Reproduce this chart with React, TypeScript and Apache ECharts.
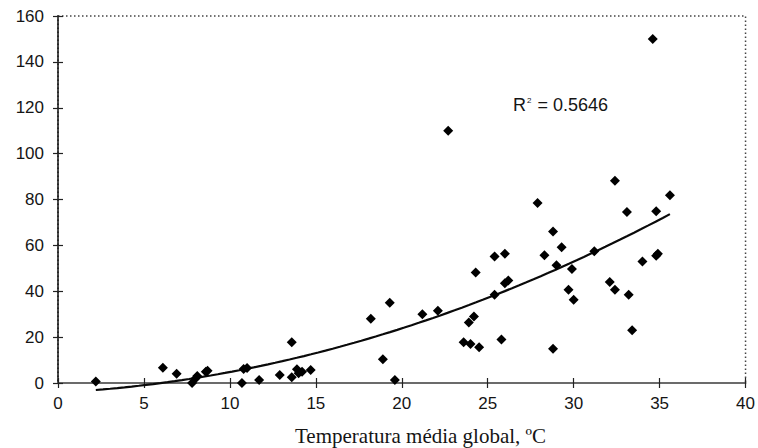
import React, { useEffect, useRef } from "react";
import * as echarts from "echarts";

const tempX = [2.2, 6.1, 6.9, 7.8, 8.0, 8.1, 8.6, 8.7, 10.7, 10.8, 11.0, 11.7, 12.9, 13.6, 13.6, 13.9, 14.0, 14.2, 14.7, 18.2, 18.9, 19.3, 19.6, 21.2, 22.1, 22.7, 23.6, 23.9, 24.0, 24.2, 24.3, 24.5, 25.4, 25.4, 25.8, 26.0, 26.0, 26.2, 27.9, 28.3, 28.8, 28.8, 29.0, 29.3, 29.7, 29.9, 30.0, 31.2, 32.1, 32.4, 32.4, 33.1, 33.2, 33.4, 34.0, 34.6, 34.8, 34.9, 34.8, 35.6];
const valueY = [0.7, 6.7, 4.0, 0, 2.0, 3.0, 4.9, 5.3, 0, 6.1, 6.5, 1.3, 3.5, 2.5, 17.8, 6.0, 4.2, 4.9, 5.7, 28, 10.4, 35, 1.3, 30, 31.5, 110, 17.8, 26.4, 17, 29, 48.2, 15.6, 55.2, 38.5, 19, 56.4, 43.5, 44.7, 78.5, 55.7, 66, 14.9, 51.3, 59.2, 40.7, 49.7, 36.3, 57.4, 44, 88.2, 40.7, 74.5, 38.5, 23, 53, 150, 74.9, 56.3, 55.5, 81.9];
const xTicks = [0, 5, 10, 15, 20, 25, 30, 35, 40];
const yTicks = [0, 20, 40, 60, 80, 100, 120, 140, 160];
const r2Label = "0.5646";
const xTitle = "Temperatura média global, ºC";

// least-squares quadratic fit (Excel polynomial trendline, order 2)
function quadFit(xs: number[], ys: number[]) {
  let s0 = 0, s1 = 0, s2 = 0, s3 = 0, s4 = 0, t0 = 0, t1 = 0, t2 = 0;
  for (let i = 0; i < xs.length; i++) {
    const x = xs[i], y = ys[i];
    s0 += 1; s1 += x; s2 += x * x; s3 += x * x * x; s4 += x * x * x * x;
    t0 += y; t1 += x * y; t2 += x * x * y;
  }
  const M = [
    [s0, s1, s2, t0],
    [s1, s2, s3, t1],
    [s2, s3, s4, t2],
  ];
  for (let c = 0; c < 3; c++) {
    for (let r = c + 1; r < 3; r++) {
      const f = M[r][c] / M[c][c];
      for (let k = c; k < 4; k++) M[r][k] -= f * M[c][k];
    }
  }
  const sol = [0, 0, 0];
  for (let r = 2; r >= 0; r--) {
    let s = M[r][3];
    for (let k = r + 1; k < 3; k++) s -= M[r][k] * sol[k];
    sol[r] = s / M[r][r];
  }
  return sol; // c, b, a
}

export default function App() {
  const ref = useRef<HTMLDivElement>(null);
  useEffect(() => {
    if (!ref.current) return;
    const chart = echarts.init(ref.current, undefined, { renderer: "svg" });
    const points = tempX.map((x, i) => [x, valueY[i]]);
    const [c, b, a] = quadFit(tempX, valueY);
    const xmin = Math.min(...tempX);
    const xmax = Math.max(...tempX);
    const trend: number[][] = [];
    const n = 80;
    for (let i = 0; i <= n; i++) {
      const x = xmin + ((xmax - xmin) * i) / n;
      trend.push([x, a * x * x + b * x + c]);
    }
    const labelFont = { fontFamily: "Liberation Sans, Arial, sans-serif", fontSize: 17, color: "#151515" };
    chart.setOption({
      animation: false,
      backgroundColor: "#ffffff",
      grid: {
        left: 58, right: 10, top: 16, bottom: 65,
        show: true, borderColor: "#444", borderWidth: 1.5, borderType: [1.5, 2.5] as any,
        backgroundColor: "transparent",
      },
      xAxis: [
        {
          type: "value", min: xTicks[0], max: xTicks[xTicks.length - 1], interval: 5,
          axisLine: { show: true, lineStyle: { color: "#6b6b6b", width: 2 } },
          axisTick: { show: true, inside: false, length: 5, lineStyle: { color: "#222", width: 1.2 } },
          axisLabel: { ...labelFont, margin: 12 },
          splitLine: { show: false },
        },
        {
          type: "value", min: xTicks[0], max: xTicks[xTicks.length - 1], interval: 5, position: "bottom",
          axisLine: { show: false },
          axisTick: { show: true, inside: true, length: 5, lineStyle: { color: "#222", width: 1.2 } },
          axisLabel: { show: false },
          splitLine: { show: false },
        },
      ],
      yAxis: [
        {
          type: "value", min: yTicks[0], max: yTicks[yTicks.length - 1], interval: 20,
          axisLine: { show: true, lineStyle: { color: "#111", width: 1.5 } },
          axisTick: { show: true, inside: false, length: 5, lineStyle: { color: "#222", width: 1.2 } },
          axisLabel: { ...labelFont, margin: 14 },
          splitLine: { show: false },
        },
        {
          type: "value", min: yTicks[0], max: yTicks[yTicks.length - 1], interval: 20, position: "left",
          axisLine: { show: false },
          axisTick: { show: true, inside: true, length: 5, lineStyle: { color: "#222", width: 1.2 } },
          axisLabel: { show: false },
          splitLine: { show: false },
        },
      ],
      series: [
        {
          type: "line",
          data: trend,
          showSymbol: false,
          clip: false,
          smooth: false,
          lineStyle: { color: "#0a0a0a", width: 2.2 },
          z: 2,
        },
        {
          type: "scatter",
          data: points,
          symbol: "diamond",
          symbolSize: [10, 10],
          clip: false,
          itemStyle: { color: "#000000", opacity: 1 },
          z: 3,
        },
      ],
      graphic: [
        {
          type: "text",
          left: 513,
          top: 96,
          style: {
            text: "{r|R}{s|2}{r| = " + r2Label + "}",
            rich: {
              r: { fontFamily: "Liberation Sans, Arial, sans-serif", fontSize: 18, fill: "#151515" },
              s: { fontFamily: "Liberation Sans, Arial, sans-serif", fontSize: 8, fill: "#151515", verticalAlign: "top", padding: [0, 1, 9, 1] },
            },
          },
        },
        {
          type: "text",
          left: 295,
          top: 425,
          style: {
            text: xTitle,
            fontFamily: "Liberation Serif, Times New Roman, serif",
            fontSize: 21,
            fill: "#151515",
          },
        },
      ],
    });
    return () => chart.dispose();
  }, []);
  return <div ref={ref} style={{ width: 758, height: 448, position: "absolute", left: 0, top: 0 }} />;
}
